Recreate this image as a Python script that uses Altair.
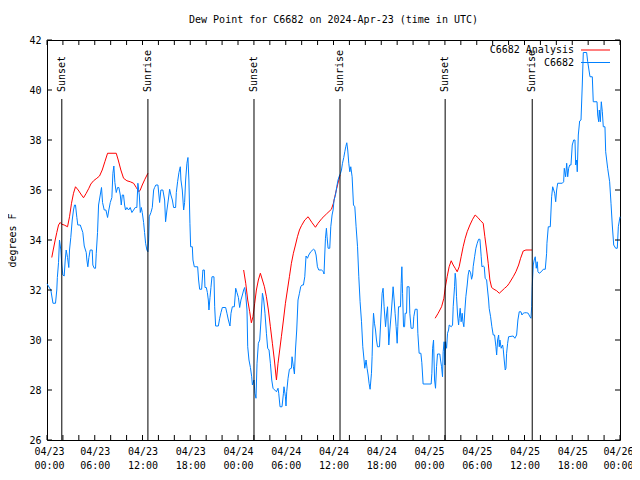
import json
import altair as alt
import pandas as pd

FONT = "DejaVu Sans Mono"

# ---------------- data (hours since 04/23 00:00 UTC, degrees F) ----------------
blue_t = [0.00, 0.48, 0.75, 1.07, 1.23, 1.30, 1.45, 1.57, 1.74, 1.86, 1.99, 2.16, 2.29, 2.41, 2.58, 2.74,
          2.83, 2.99, 3.17, 3.33, 3.46, 3.58, 3.75, 3.87, 4.18, 4.50, 4.68, 4.93, 5.01, 5.13, 5.26, 5.43,
          5.68, 5.76, 5.94, 6.10, 6.19, 6.35, 6.48, 6.69, 6.85, 6.98, 7.19, 7.40, 7.61, 7.77, 7.95, 8.15,
          8.28, 8.40, 8.53, 8.70, 8.87, 9.03, 9.21, 9.33, 9.46, 9.62, 9.75, 9.87, 10.04, 10.25, 10.46,
          10.67, 10.88, 11.09, 11.29, 11.42, 11.60, 11.72, 11.85, 11.97, 12.14, 12.26, 12.39, 12.55, 12.68,
          12.77, 12.85, 13.06, 13.23, 13.40, 13.52, 13.68, 13.94, 14.15, 14.31, 14.56, 14.78, 14.90, 15.07,
          15.24, 15.41, 15.57, 15.75, 15.91, 16.16, 16.25, 16.41, 16.58, 16.75, 16.83, 17.00, 17.17, 17.29,
          17.42, 17.58, 17.71, 17.83, 17.96, 18.05, 18.26, 18.34, 18.51, 18.93, 19.05, 19.18, 19.43, 19.59,
          19.77, 19.85, 20.02, 20.15, 20.27, 20.35, 20.48, 20.60, 20.73, 20.98, 21.07, 21.19, 21.53, 21.70,
          21.86, 22.03, 22.45, 22.61, 22.79, 22.99, 23.12, 23.29, 23.54, 23.71, 23.87, 24.05, 24.21, 24.37,
          24.55, 24.71, 24.84, 24.97, 25.13, 25.22, 25.38, 25.56, 25.72, 25.81, 26.01, 26.13, 26.26, 26.39,
          26.56, 26.73, 26.89, 27.07, 27.23, 27.39, 27.57, 27.73, 27.90, 28.07, 28.24, 28.40, 28.61, 28.83,
          29.03, 29.12, 29.20, 29.28, 29.53, 29.71, 29.78, 29.96, 30.03, 30.12, 30.29, 30.46, 30.71, 30.79,
          30.96, 31.09, 31.22, 31.38, 31.54, 31.72, 31.88, 32.05, 32.22, 32.39, 32.55, 32.73, 32.89, 33.14,
          33.48, 33.64, 33.81, 33.98, 34.15, 34.49, 34.74, 34.81, 34.90, 34.99, 35.11, 35.19, 35.32, 35.53,
          35.66, 35.82, 35.95, 36.07, 36.25, 36.41, 36.57, 36.70, 36.88, 37.00, 37.13, 37.29, 37.42, 37.54,
          37.67, 37.79, 37.92, 38.05, 38.17, 38.34, 38.51, 38.68, 38.84, 39.02, 39.18, 39.34, 39.52, 39.68,
          39.84, 39.93, 40.09, 40.22, 40.35, 40.47, 40.60, 40.77, 40.85, 40.94, 41.03, 41.15, 41.28, 41.40,
          41.53, 41.78, 41.94, 42.11, 42.23, 42.36, 42.54, 42.66, 42.79, 42.95, 43.08, 43.24, 43.42, 43.49,
          43.62, 43.74, 43.87, 44.00, 44.08, 44.17, 44.42, 44.50, 44.59, 44.68, 44.80, 44.93, 45.00, 45.18,
          45.25, 45.50, 45.59, 45.75, 46.00, 46.09, 46.26, 46.51, 46.60, 46.76, 46.98, 47.10, 47.26, 48.27,
          48.36, 48.45, 48.57, 48.70, 48.82, 48.95, 49.07, 49.36, 49.45, 49.58, 49.70, 49.78, 49.90, 49.99,
          50.08, 50.21, 50.33, 50.46, 50.54, 50.79, 50.96, 51.04, 51.21, 51.29, 51.38, 51.46, 51.59, 51.72,
          51.79, 51.92, 52.04, 52.17, 52.26, 52.38, 52.51, 52.63, 52.80, 52.92, 53.05, 53.23, 53.35, 53.48,
          53.55, 53.73, 53.89, 54.06, 54.23, 54.40, 54.56, 54.65, 54.81, 54.94, 55.06, 55.24, 55.36, 55.49,
          55.56, 55.74, 55.90, 56.07, 56.24, 56.41, 56.50, 56.62, 56.75, 56.83, 56.91, 57.07, 57.25, 57.33,
          57.45, 57.58, 57.67, 57.75, 57.88, 58.00, 58.58, 58.79, 59.01, 59.17, 59.34, 59.55, 59.68, 59.84,
          60.02, 60.27, 60.47, 60.68, 60.81, 60.90, 60.97, 61.10, 61.22, 61.35, 61.48, 61.60, 61.69, 61.85,
          62.11, 62.36, 62.61, 62.78, 62.82, 62.99, 63.24, 63.41, 63.54, 63.67, 63.79, 63.92, 64.04, 64.17,
          64.75, 64.92, 65.00, 65.17, 65.30, 65.43, 65.55, 65.68, 65.84, 66.00, 66.18, 66.34, 66.43, 66.56,
          66.63, 66.76, 66.93, 67.10, 67.26, 67.39, 67.81, 67.94, 68.23, 68.52, 68.64, 69.11, 69.20, 69.32,
          69.40, 69.53, 69.65, 69.78, 69.90, 70.11, 70.20, 70.45, 70.70, 70.87, 71.03, 71.21, 71.46, 71.66,
          71.79, 72.00]
blue_v = [32.25, 32.0, 31.47, 31.47, 32.0, 32.5, 33.1, 34.0, 33.6, 33.0, 32.6, 32.56, 33.2, 33.6, 33.3, 32.9,
          33.6, 34.1, 34.8, 35.2, 35.4, 35.4, 34.9, 34.6, 34.6, 34.3, 33.76, 33.5, 33.2, 32.93, 33.3, 33.6,
          33.6, 33.0, 32.87, 32.87, 33.47, 34.3, 35.4, 35.8, 36.1, 35.5, 35.2, 35.2, 34.9, 35.2, 35.5, 35.7,
          36.67, 36.96, 36.3, 35.9, 36.1, 36.1, 35.8, 35.4, 35.8, 35.8, 35.4, 35.2, 35.3, 35.2, 35.3,
          35.1, 35.2, 35.3, 35.3, 36.27, 35.8, 35.1, 35.3, 35.1, 34.7, 34.3, 33.87, 33.6, 33.53,
          34.0, 34.93, 35.1, 35.3, 36.0, 36.1, 36.2, 36.2, 35.5, 36.0, 36.0, 35.6, 34.73, 35.2,
          35.6, 36.03, 35.8, 35.6, 35.3, 35.3, 35.9, 36.33, 36.7, 36.93, 36.4, 36.0, 35.2, 35.5,
          36.4, 37.07, 37.3, 36.4, 34.67, 33.73, 33.73, 33.2, 32.93, 32.93, 32.4, 32.03, 32.03, 32.8,
          32.8, 32.1, 32.1, 31.9, 31.6, 31.2, 31.7, 32.1, 32.53, 32.53, 31.33, 30.56, 30.56, 30.87,
          31.1, 31.3, 31.3, 31.07, 30.8, 30.56, 31.07, 31.33, 31.33, 32.07, 31.9, 31.7, 31.3, 31.6,
          31.8, 32.0, 32.1, 31.8, 31.2, 29.73, 29.2, 28.9, 28.53, 28.2, 28.4, 27.87, 27.67, 29.07,
          29.87, 30.0, 30.8, 31.87, 31.6, 31.07, 30.27, 29.67, 29.6, 29.07, 28.4, 28.07, 28.0, 27.93,
          28.07, 27.87, 27.6, 27.33, 27.33, 27.87, 28.13, 27.73, 27.36, 27.93, 28.47, 28.83, 28.87, 29.33,
          28.93, 28.64, 29.6, 30.4, 31.6, 31.87, 32.13, 32.2, 32.2, 32.53, 33.36, 33.27, 33.4, 33.53,
          33.63, 33.6, 33.4, 32.93, 32.8, 32.8, 32.73, 32.64, 33.4, 34.07, 34.47, 34.13, 33.67, 33.67,
          34.53, 35.0, 35.2, 35.6, 35.8, 36.13, 36.4, 36.53, 36.67, 36.8, 37.07, 37.3, 37.53, 37.73,
          37.89, 37.6, 37.07, 36.73, 36.93, 36.53, 35.4, 35.33, 34.53, 33.73, 32.53, 31.53, 30.73, 29.73,
          29.2, 28.87, 29.2, 28.87, 28.6, 28.27, 28.03, 28.67, 29.33, 30.4, 31.07, 30.67, 30.4, 30.0,
          29.73, 29.73, 30.8, 31.87, 32.07, 31.33, 30.53, 31.0, 31.33, 29.8, 30.4, 31.0, 31.8, 32.13,
          31.6, 31.07, 30.53, 29.87, 30.53, 31.33, 31.33, 32.27, 32.93, 31.87, 30.53, 30.53, 31.07, 31.07,
          32.13, 32.13, 31.07, 30.47, 30.47, 30.93, 31.23, 31.23, 30.27, 29.47, 29.47, 29.09, 28.24, 28.24,
          28.67, 29.67, 30.0, 28.4, 28.07, 28.93, 29.44, 29.44, 29.2, 28.93, 28.53, 29.53, 29.93, 29.0,
          29.93, 29.67, 30.27, 30.4, 30.6, 30.53, 30.6, 31.33, 32.13, 32.67, 32.4, 31.73, 31.0, 30.6,
          30.87, 31.27, 30.73, 31.07, 30.73, 30.53, 31.2, 31.73, 32.2, 32.6, 32.8, 32.69, 32.43, 32.6,
          32.93, 33.33, 33.67, 33.87, 34.03, 34.03, 33.33, 32.93, 32.96, 32.93, 32.47, 32.4, 32.0, 31.6,
          31.27, 30.93, 30.53, 30.2, 30.2, 29.73, 29.4, 30.0, 30.2, 29.73, 30.0, 29.67, 29.8, 29.63,
          29.2, 28.8, 28.87, 29.47, 29.87, 30.13, 30.16, 30.07, 30.2, 30.8, 31.13, 31.13, 31.0, 31.07,
          31.09, 31.09, 31.07, 30.93, 30.87, 31.33, 32.13, 33.0, 33.2, 33.33, 32.87, 33.13, 32.73, 32.67,
          32.73, 32.83, 32.83, 33.47, 33.87, 34.53, 34.53, 35.73, 36.13, 36.0, 35.87, 35.53, 36.0, 36.27,
          36.27, 36.33, 36.87, 36.53, 37.07, 36.53, 36.87, 37.0, 37.0, 37.8, 38.0, 38.0, 37.0, 37.2,
          36.73, 38.2, 38.76, 38.8, 40.2, 41.5, 41.5, 41.13, 40.53, 40.53, 39.53, 39.53, 39.0, 38.73,
          39.2, 38.73, 39.53, 39.13, 38.53, 38.53, 37.53, 36.87, 36.33, 35.47, 34.6, 33.8, 33.67, 33.67,
          34.53, 34.93]

red_seg1_t = [0.60, 0.78, 1.03, 1.23, 1.45, 1.66, 1.86, 2.16, 2.58, 2.83, 3.08, 3.33, 3.58, 3.92, 4.25,
              4.59, 4.93, 5.26, 5.51, 5.85, 6.26, 6.60, 6.94, 7.27, 7.61, 8.70, 8.95, 9.28, 9.62, 10.04,
              10.46, 10.88, 11.22, 11.55, 11.72, 11.97, 12.30, 12.68]
red_seg1_v = [33.3, 33.6, 34.0, 34.3, 34.6, 34.7, 34.63, 34.6, 34.53, 34.93, 35.47, 35.87, 36.13, 36.0, 35.84,
              35.69, 35.87, 36.07, 36.24, 36.37, 36.47, 36.56, 36.8, 37.13, 37.47, 37.47, 37.2, 36.8, 36.47,
              36.37, 36.33, 36.27, 36.1, 35.93, 36.0, 36.2, 36.43, 36.67]
red_seg2_t = [24.71, 24.97, 25.22, 25.47, 25.68, 25.88, 26.10, 26.31, 26.56, 26.81, 27.07, 27.32, 27.57,
              27.82, 28.07, 28.32, 28.57, 28.83, 29.03, 29.24, 29.45, 29.71, 29.96, 30.21, 30.46, 30.71,
              30.96, 31.22, 31.47, 31.72, 31.97, 32.39, 32.81, 33.31, 33.73, 34.06, 34.56, 35.11, 35.74,
              35.99, 36.16, 36.41, 36.66, 36.82]
red_seg2_v = [32.8, 32.27, 31.6, 31.13, 30.69, 30.93, 31.47, 32.0, 32.4, 32.67, 32.4, 32.13, 31.73,
              31.2, 30.53, 29.87, 29.2, 28.4, 29.07, 29.6, 30.13, 30.8, 31.47, 32.0, 32.53, 33.07,
              33.47, 33.8, 34.13, 34.4, 34.57, 34.8, 34.93, 34.69, 34.51, 34.67, 34.87, 35.04, 35.23,
              35.47, 35.73, 36.07, 36.4, 36.6]
red_seg3_t = [48.77, 49.15, 49.58, 49.87, 50.03, 50.28, 50.53, 50.79, 51.04, 51.29, 51.54, 51.79, 52.04,
              52.29, 52.55, 52.80, 53.14, 53.48, 53.80, 54.14, 54.48, 54.81, 55.02, 55.24, 55.44, 55.65,
              55.87, 56.16, 56.50, 56.83, 57.17, 57.50, 57.83, 58.08, 58.58, 58.92, 59.26, 59.51, 59.84,
              60.18, 60.94]
red_seg3_v = [30.87, 31.07, 31.33, 31.67, 32.07, 32.53, 32.93, 33.17, 33.0, 32.87, 32.73, 32.93, 33.33,
              33.73, 34.07, 34.33, 34.6, 34.83, 35.0, 34.9, 34.77, 34.67, 34.13, 33.6, 33.07, 32.4,
              32.1, 32.03, 31.97, 31.87, 31.97, 32.07, 32.16, 32.27, 32.53, 32.73, 33.0, 33.27, 33.56,
              33.6, 33.6]

sun_t = [1.86, 12.68, 26.01, 36.82, 50.03, 60.97]
sun_label = ["Sunset", "Sunrise", "Sunset", "Sunrise", "Sunset", "Sunrise"]

series_names = ["C6682 Analysis", "C6682"]
series_colors = ["#ff0000", "#0080ff"]

x_label_hours = [0, 6, 12, 18, 24, 30, 36, 42, 48, 54, 60, 66, 72]
x_tick_labels = [["04/23", "00:00"], ["04/23", "06:00"], ["04/23", "12:00"], ["04/23", "18:00"],
                 ["04/24", "00:00"], ["04/24", "06:00"], ["04/24", "12:00"], ["04/24", "18:00"],
                 ["04/25", "00:00"], ["04/25", "06:00"], ["04/25", "12:00"], ["04/25", "18:00"],
                 ["04/26", "00:00"]]
x_minor_hours = list(range(0, 73, 2))
y_ticks = [26, 28, 30, 32, 34, 36, 38, 40, 42]

# ---------------- frames ----------------
blue_df = pd.DataFrame({"t": blue_t, "v": blue_v, "seg": 0})
red_df = pd.concat([
    pd.DataFrame({"t": red_seg1_t, "v": red_seg1_v, "seg": 1}),
    pd.DataFrame({"t": red_seg2_t, "v": red_seg2_v, "seg": 2}),
    pd.DataFrame({"t": red_seg3_t, "v": red_seg3_v, "seg": 3}),
], ignore_index=True)
sun_df = pd.DataFrame({"t": sun_t, "label": sun_label})
xt_df = pd.DataFrame({"t": x_minor_hours})
yt_df = pd.DataFrame({"v": y_ticks})

W, H = 573, 400
xs = alt.Scale(domain=[0, 72], nice=False, zero=False)
ys = alt.Scale(domain=[26, 42], nice=False, zero=False)

x_axis = alt.Axis(values=x_label_hours,
                  labelExpr=json.dumps(x_tick_labels) + "[round(datum.value / 6)]",
                  ticks=False, domain=False, grid=False, title=None,
                  labelFont=FONT, labelFontSize=10, labelColor="black",
                  labelPadding=6, labelLineHeight=14, labelOverlap=False,
                  labelFlush=True, labelFlushOffset=13)
y_axis = alt.Axis(values=y_ticks, ticks=False, domain=False, grid=False, title="degrees F",
                  labelFont=FONT, labelFontSize=10, labelColor="black", labelPadding=6,
                  titleFont=FONT, titleFontSize=10, titleFontWeight="normal", titleColor="black",
                  titlePadding=11)

red_layer = alt.Chart(red_df).mark_line(color=series_colors[0], strokeWidth=1).encode(
    x=alt.X("t:Q", scale=xs, axis=x_axis),
    y=alt.Y("v:Q", scale=ys, axis=y_axis),
    detail="seg:N",
)
blue_layer = alt.Chart(blue_df).mark_line(color=series_colors[1], strokeWidth=1).encode(
    x=alt.X("t:Q", scale=xs),
    y=alt.Y("v:Q", scale=ys),
)

sun_rules = alt.Chart(sun_df).mark_rule(color="black", strokeWidth=1).encode(
    x=alt.X("t:Q", scale=xs), y=alt.value(H), y2=alt.value(59))
sun_text = alt.Chart(sun_df).mark_text(angle=270, align="left", baseline="middle",
                                       font=FONT, fontSize=10, color="black").encode(
    x=alt.X("t:Q", scale=xs), y=alt.value(52), text="label:N")

TL = 5
tick_layers = [
    alt.Chart(xt_df).mark_rule(color="black").encode(x=alt.X("t:Q", scale=xs), y=alt.value(H), y2=alt.value(H - TL)),
    alt.Chart(xt_df).mark_rule(color="black").encode(x=alt.X("t:Q", scale=xs), y=alt.value(0), y2=alt.value(TL)),
    alt.Chart(yt_df).mark_rule(color="black").encode(y=alt.Y("v:Q", scale=ys), x=alt.value(0), x2=alt.value(TL)),
    alt.Chart(yt_df).mark_rule(color="black").encode(y=alt.Y("v:Q", scale=ys), x=alt.value(W), x2=alt.value(W - TL)),
]

legend_layers = []
for i, (name, col) in enumerate(zip(series_names, series_colors)):
    ldf = pd.DataFrame({"name": [name]})
    yy = 10 + 12.5 * i
    legend_layers.append(alt.Chart(ldf).mark_text(align="right", baseline="middle", font=FONT,
                                                  fontSize=10, color="black").encode(
        x=alt.value(527), y=alt.value(yy), text="name:N"))
    legend_layers.append(alt.Chart(ldf).mark_rule(color=col, strokeWidth=1).encode(
        x=alt.value(534), x2=alt.value(563), y=alt.value(yy)))

chart = alt.layer(red_layer, blue_layer, sun_rules, sun_text, *tick_layers, *legend_layers).properties(
    width=W, height=H,
    title=alt.TitleParams("Dew Point for C6682 on 2024-Apr-23 (time in UTC)", font=FONT, fontSize=10,
                          fontWeight="normal", color="black", anchor="middle", baseline="bottom", offset=0),
    autosize=alt.AutoSizeParams(type="none"),
    padding={"left": 39, "top": 32, "right": 12, "bottom": 31},
    background="white",
).configure_view(stroke="black", strokeWidth=1)

chart.save("out.html", embed_options={"renderer": "svg", "actions": False})
